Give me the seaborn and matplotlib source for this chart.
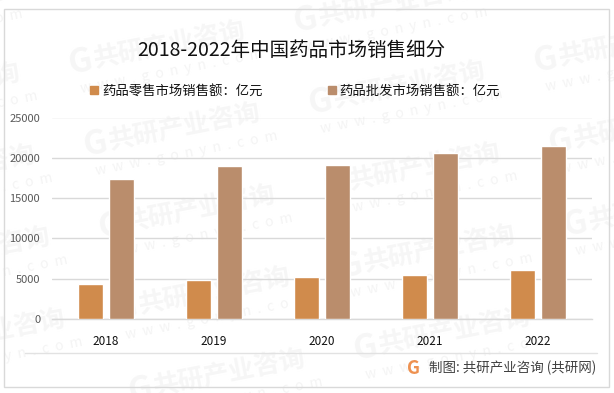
import numpy as np
import pandas as pd
import matplotlib
matplotlib.use('Agg')
import matplotlib.pyplot as plt
from matplotlib.lines import Line2D
from matplotlib.patches import Rectangle
import seaborn as sns

W, H = 614, 393

years = ['2018', '2019', '2020', '2021', '2022']
retail = [4320, 4850, 5200, 5450, 6050]
wholesale = [17350, 18950, 19050, 20650, 21500]
yticks = [0, 5000, 10000, 15000, 20000, 25000]
retail_name = '药品零售市场销售额\uff1a亿元'
wholesale_name = '药品批发市场销售额\uff1a亿元'
title = '2018-2022年中国药品市场销售细分'
source = '制图: 共研产业咨询 (共研网)'

sns.set_theme(style='white')
plt.rcParams['font.family'] = ['Noto Sans CJK SC', 'DejaVu Sans']

df = pd.DataFrame({
    'year': years * 2,
    'value': retail + wholesale,
    'series': [retail_name] * 5 + [wholesale_name] * 5,
})

fig = plt.figure(figsize=(W / 100, H / 100), dpi=100, facecolor='white')


def px(x, y):
    return x / W, 1 - y / H


# 水印
for i in range(-1, 3):
    for j in range(-1, 5):
        cx = 170 + 240 * i + 15 * j
        cy = 45 + 40 * i + 82 * j
        if cx < -70 or cx > 670 or cy < 0 or cy > 400:
            continue
        fig.text(*px(cx, cy), '共研产业咨询', fontsize=18.5, fontweight='bold', color='#f6f6f6',
                 rotation=11, ha='center', va='center', rotation_mode='anchor', zorder=-5)
        fig.text(*px(cx - 90, cy + 17), 'G', fontsize=24, fontweight='bold', color='#f6f6f6',
                 rotation=11, ha='center', va='center', rotation_mode='anchor', zorder=-5)
        fig.text(*px(cx + 2, cy + 26), 'w  w  w  .  g  o  n  y  n  .  c  o  m', fontsize=10, color='#f4f4f4',
                 rotation=11, ha='center', va='center', rotation_mode='anchor', zorder=-5)

# 外框和底部分隔线
fig.add_artist(Rectangle(px(3.5, 387), 605 / W, 378 / H, transform=fig.transFigure,
                         fill=False, edgecolor='#d9d9d9', linewidth=1.0, zorder=-4))
fig.add_artist(Line2D([25 / W, 597 / W], [1 - 353 / H] * 2, color='#e2e2e2', linewidth=1.0, zorder=-4))

ax = fig.add_axes([52 / W, 74 / H, 540 / W, 201.5 / H])
ax.patch.set_alpha(0)

sns.barplot(data=df, x='year', y='value', hue='series', ax=ax,
            palette=['#d08b4c', '#ba8d6c'], width=0.574, gap=0.2,
            saturation=1, legend=False, zorder=3)

ax.set_ylim(0, 25000)
ax.set_xlim(-0.5, 4.5)
ax.set_yticks(yticks)
ax.set_xlabel('')
ax.set_ylabel('')
ax.grid(axis='y', color='#d9d9d9', linewidth=1.0, zorder=1)
ax.set_axisbelow(True)
sns.despine(ax=ax, left=True, top=True, right=True)
ax.spines['bottom'].set_color('#d9d9d9')
ax.spines['bottom'].set_linewidth(1.0)
ax.tick_params(axis='y', length=0, labelsize=8, labelcolor='#595959', pad=8.5)
ax.tick_params(axis='x', length=0, labelsize=8.5, labelcolor='#111111', pad=11.5)

fig.text(*px(291.5, 51), title, fontsize=14, color='#111111', ha='center', va='center')

# 图例
handles = [Rectangle((0, 0), 1, 1, color='#d08b4c'), Rectangle((0, 0), 1, 1, color='#ba8d6c')]
fig.legend(handles, [retail_name, wholesale_name], ncol=2, frameon=False,
           loc='center', bbox_to_anchor=px(295, 90.5), fontsize=9.6, labelcolor='#111111',
           handlelength=0.6, handleheight=0.6, handletextpad=0.25, columnspacing=4.9)

# 来源
fig.text(*px(413.5, 368.5), 'G', fontsize=13, fontweight='bold', color='#ee9150', ha='center', va='center')
fig.text(*px(429, 368), source, fontsize=9.7, color='#404040', ha='left', va='center')

fig.savefig('out.png', dpi=100)
